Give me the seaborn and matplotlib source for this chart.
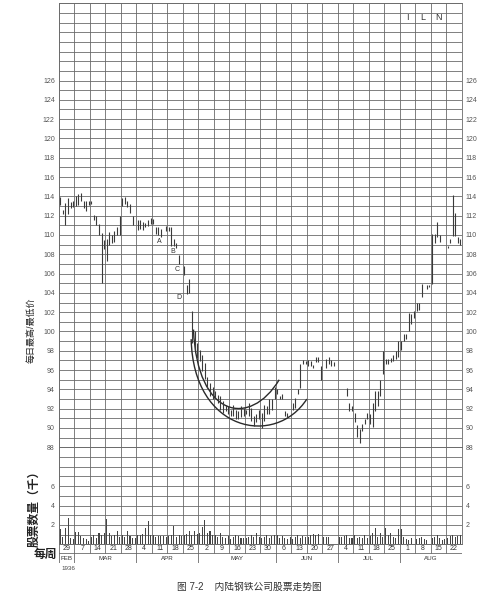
import numpy as np
import pandas as pd
import matplotlib
matplotlib.use("Agg")
import matplotlib.pyplot as plt
from matplotlib.path import Path
from matplotlib.patches import PathPatch
import seaborn as sns

nan = np.nan

# daily high / low, six trading days per week, Feb 29 - Aug 22 1936
high = [
    113.9, 112.6, 113.3, 113.8, 113.4, 113.5,
    114.0, 114.2, 114.3, 113.5, 113.5, 113.5,
    113.5, 112.1, 112.0, 111.1, 110.2, 109.5,
    109.6, 110.3, 110.0, 110.4, 110.8, 112.0,
    113.8, 113.9, 113.5, 113.2, 112.0, nan,
    111.6, 111.6, 111.3, 111.2, 111.5, 111.8,
    111.7, 110.8, 110.8, 110.6, nan, 110.9,
    110.8, 110.8, 109.6, 109.2, 107.9, nan,
    106.8, 104.8, 105.4, 102.1, 100.0, 98.8,
    98.1, 97.6, 96.7, 95.3, 94.7, 94.2,
    93.8, 93.4, 93.3, 92.8, 92.4, 92.3,
    91.9, 92.4, 91.9, 91.8, 92.3, 92.1,
    91.9, 92.6, 92.1, 91.2, 91.4, 91.9,
    91.6, 92.4, 92.3, 93.0, 93.0, 94.2,
    94.0, 93.3, 93.5, 91.8, 91.6, nan,
    92.6, 93.1, 94.0, 96.6, 97.0, 96.9,
    97.0, 96.9, 96.5, 97.4, 97.4, 96.4,
    nan, 97.1, 97.4, 97.0, 96.8, nan,
    nan, nan, nan, 94.1, 92.6, 92.3,
    91.6, 90.3, 89.9, 90.4, 90.9, 91.6,
    91.4, 92.6, 93.8, 93.8, 95.0, 98.0,
    97.1, 97.1, 97.3, 97.6, 98.0, 99.0,
    99.0, 99.7, 99.7, 101.9, 101.8, 102.1,
    102.9, 102.9, 104.9, nan, 104.8, 104.8,
    110.1, 110.1, 111.3, 110.0, nan, nan,
    108.9, 109.6, 114.1, 112.3, 109.8, 109.6,
]
low = [
    113.1, 112.2, 111.0, 112.2, 112.8, 112.9,
    113.0, 113.1, 113.5, 112.8, 112.5, 113.1,
    113.2, 111.5, 111.0, 110.0, 105.0, 108.5,
    107.3, 109.0, 109.2, 109.3, 110.0, 110.0,
    113.0, 113.2, 112.9, 112.3, 111.0, nan,
    110.5, 110.6, 110.5, 110.8, 110.9, 111.1,
    111.1, 110.1, 110.0, 109.8, nan, 110.4,
    110.4, 108.9, 108.9, 108.6, 107.0, nan,
    105.9, 103.9, 104.0, 98.8, 98.1, 97.3,
    96.9, 95.9, 95.1, 94.1, 93.3, 93.0,
    93.1, 92.6, 91.9, 91.6, 91.8, 91.4,
    91.2, 91.2, 90.9, 90.9, 91.1, 91.2,
    91.4, 91.2, 90.7, 90.2, 90.6, 90.9,
    90.0, 90.7, 91.4, 91.4, 91.9, 93.0,
    93.5, 93.0, 93.0, 91.2, 91.1, nan,
    91.9, 92.1, 93.5, 94.1, 96.6, 96.6,
    96.4, 96.4, 96.2, 96.8, 96.8, 95.0,
    nan, 96.2, 96.6, 96.4, 96.4, nan,
    nan, nan, nan, 93.3, 91.8, 91.8,
    90.6, 89.1, 88.4, 89.7, 90.4, 90.9,
    90.4, 90.1, 91.8, 92.3, 93.3, 95.6,
    96.6, 96.6, 96.8, 96.9, 97.1, 97.4,
    98.1, 99.0, 99.2, 100.0, 100.8, 101.4,
    102.1, 102.2, 103.6, nan, 104.4, 104.6,
    104.9, 109.2, 109.8, 109.3, nan, nan,
    108.6, 109.2, 109.9, 109.9, 109.2, 109.0,
]
# daily volume, thousands of shares
volume = [
    1.6, 0.8, 1.7, 2.7, 0.7, 0.5,
    1.3, 1.3, 0.9, 0.7, 0.5, 0.3,
    0.8, 1.0, 0.7, 1.2, 1.0, 1.2,
    2.6, 1.2, 0.9, 1.0, 1.4, 0.8,
    1.0, 0.8, 1.4, 0.9, 0.6, 0.7,
    1.0, 1.0, 1.1, 1.7, 2.4, 1.0,
    1.0, 0.8, 0.9, 0.9, 0.9, 0.8,
    0.9, 1.0, 1.9, 0.8, 1.0, 0.9,
    1.0, 1.1, 1.4, 1.0, 1.4, 1.1,
    1.2, 1.8, 2.5, 1.2, 1.4, 1.0,
    1.0, 0.8, 1.2, 0.8, 0.6, 0.9,
    0.5, 0.8, 1.0, 0.9, 0.7, 0.6,
    0.6, 0.8, 1.0, 0.8, 1.2, 0.8,
    0.6, 0.8, 1.0, 0.6, 0.9, 1.0,
    1.0, 0.7, 0.9, 0.6, 0.5, 0.8,
    0.5, 0.8, 1.0, 0.7, 0.9, 0.8,
    0.8, 1.0, 1.1, 1.0, 1.1, 0.0,
    0.8, 0.8, 0.8, 0.0, 0.0, 0.0,
    0.8, 0.8, 0.9, 1.0, 0.7, 0.6,
    1.0, 0.6, 0.8, 0.7, 1.0, 0.6,
    0.9, 1.2, 1.7, 0.8, 1.2, 0.8,
    1.7, 1.0, 1.2, 0.8, 0.6, 1.6,
    1.6, 0.8, 0.5, 0.4, 0.6, 0.0,
    0.5, 0.6, 0.8, 0.5, 0.4, 0.0,
    0.6, 0.8, 1.0, 0.6, 0.4, 0.5,
    0.6, 0.9, 1.0, 0.8, 0.9, 1.0,
]

week_labels = ['29', '7', '14', '21', '28', '4', '11', '18', '25', '2', '9', '16', '23',
               '30', '6', '13', '20', '27', '4', '11', '18', '25', '1', '8', '15', '22']
month_names = ['FEB', 'MAR', 'APR', 'MAY', 'JUN', 'JUL', 'AUG']
month_first_week = [0, 1, 5, 9, 14, 18, 22]

# pattern marks A-D and the two bowl arcs (day position, price)
mark_names = ['A', 'B', 'C', 'D']
mark_day = [38.8, 43.9, 45.8, 46.4]
mark_price = [109.3, 108.3, 106.4, 103.5]
outer_arc = [(51.2, 99.2), (52.0, 89.5), (84.0, 88.0), (96.0, 93.0)]
inner_arc = [(52.1, 100.2), (53.5, 91.0), (74.0, 90.0), (85.3, 95.0)]

sns.set_theme(style="white")
plt.rcParams['font.family'] = ['Liberation Sans', 'Noto Sans CJK SC']

GRID = '#6a6a6a'
INK = '#3a3a3a'
n_days = len(high)

df = pd.DataFrame({'day': np.arange(n_days) + 0.5, 'high': high, 'low': low, 'vol': volume})

fig = plt.figure(figsize=(4.97, 5.98), dpi=100)
ax = fig.add_axes([0.1187, 0.252, 0.8103, 0.7425])
axv = fig.add_axes([0.1187, 0.0898, 0.8103, 0.1622])
axt = fig.add_axes([0.1187, 0.058, 0.8103, 0.0318])


def style_grid(a, ymin, ymax, labels):
    a.set_xlim(0, n_days)
    a.set_ylim(ymin, ymax)
    a.set_xticks(np.arange(0, n_days + 1, 6))
    a.set_xticklabels([])
    a.set_yticks(labels)
    a.set_yticks(np.arange(ymin, ymax + 1, 1), minor=True)
    a.set_yticklabels([str(v) for v in labels])
    a.grid(True, which='both', color=GRID, lw=0.6)
    a.tick_params(which='both', length=0, labelsize=5, colors='#555555',
                  labelleft=True, labelright=True, pad=3)
    for s in a.spines.values():
        s.set_color(GRID)
        s.set_linewidth(0.6)
    a.set_axisbelow(True)


style_grid(ax, 88, 134, list(range(88, 127, 2)))
style_grid(axv, 0, 10, [2, 4, 6])

# daily price ranges
px = df.dropna()
ax.vlines(px['day'], px['low'], px['high'], color=INK, lw=0.8)

for name, d, p in zip(mark_names, mark_day, mark_price):
    ax.text(d, p, name, fontsize=5, color='#333333', ha='center', va='center')

for arc in (outer_arc, inner_arc):
    path = Path(arc, [Path.MOVETO, Path.CURVE4, Path.CURVE4, Path.CURVE4])
    ax.add_patch(PathPatch(path, fill=False, color='#2a2a2a', lw=1.0))

for i, letter in enumerate(['I', 'L', 'N']):
    ax.text(22 * 6 + 3 + i * 6, 132.5, letter, fontsize=6.5, color='#333333',
            ha='center', va='center')

# volume
sns.barplot(data=df, x='day', y='vol', native_scale=True, color='#444444',
            saturation=1, width=0.4, linewidth=0, errorbar=None, ax=axv)
axv.set_xlabel('')
axv.set_ylabel('')
axv.set_xlim(0, n_days)
axv.set_ylim(0, 10)
axv.set_xticks(np.arange(0, n_days + 1, 6))
axv.set_xticklabels([])

# week / month table under the chart
axt.set_xlim(0, n_days)
axt.set_ylim(0, 19)
axt.axis('off')
for y in (0, 10, 19):
    axt.plot([0, n_days], [y, y], color=GRID, lw=0.6)
for k in range(len(week_labels) + 1):
    axt.plot([k * 6, k * 6], [10, 19], color=GRID, lw=0.6)
for k, lab in enumerate(week_labels):
    axt.text(k * 6 + 3, 14.5, lab, fontsize=5, color='#333333', ha='center', va='center')
bounds = month_first_week + [len(week_labels)]
for i, m in enumerate(month_names):
    axt.plot([bounds[i] * 6, bounds[i] * 6], [0, 10], color=GRID, lw=0.6)
    axt.text((bounds[i] + bounds[i + 1]) * 3, 5, m, fontsize=4.5, color='#333333',
             ha='center', va='center')
axt.plot([n_days, n_days], [0, 10], color=GRID, lw=0.6)

fig.text(61 / 497, 1 - 569 / 598, '1936', fontsize=4.5, color='#444444', ha='left', va='center')
fig.text(31 / 497, 1 - 330 / 598, '每日最高/最低价', fontsize=6.5, color='#222222',
         rotation=90, ha='center', va='center')
fig.text(34 / 497, 1 - 506 / 598, '股票数量（千）', fontsize=8.5, color='#222222',
         rotation=90, ha='center', va='center', fontweight='bold')
fig.text(45 / 497, 1 - 555 / 598, '每周', fontsize=8.5, color='#222222',
         ha='center', va='center', fontweight='bold')
fig.text(249 / 497, 1 - 587 / 598, '图 7-2    内陆钢铁公司股票走势图', fontsize=7,
         color='#333333', ha='center', va='center')

fig.savefig('out.png', dpi=100, facecolor='white')
